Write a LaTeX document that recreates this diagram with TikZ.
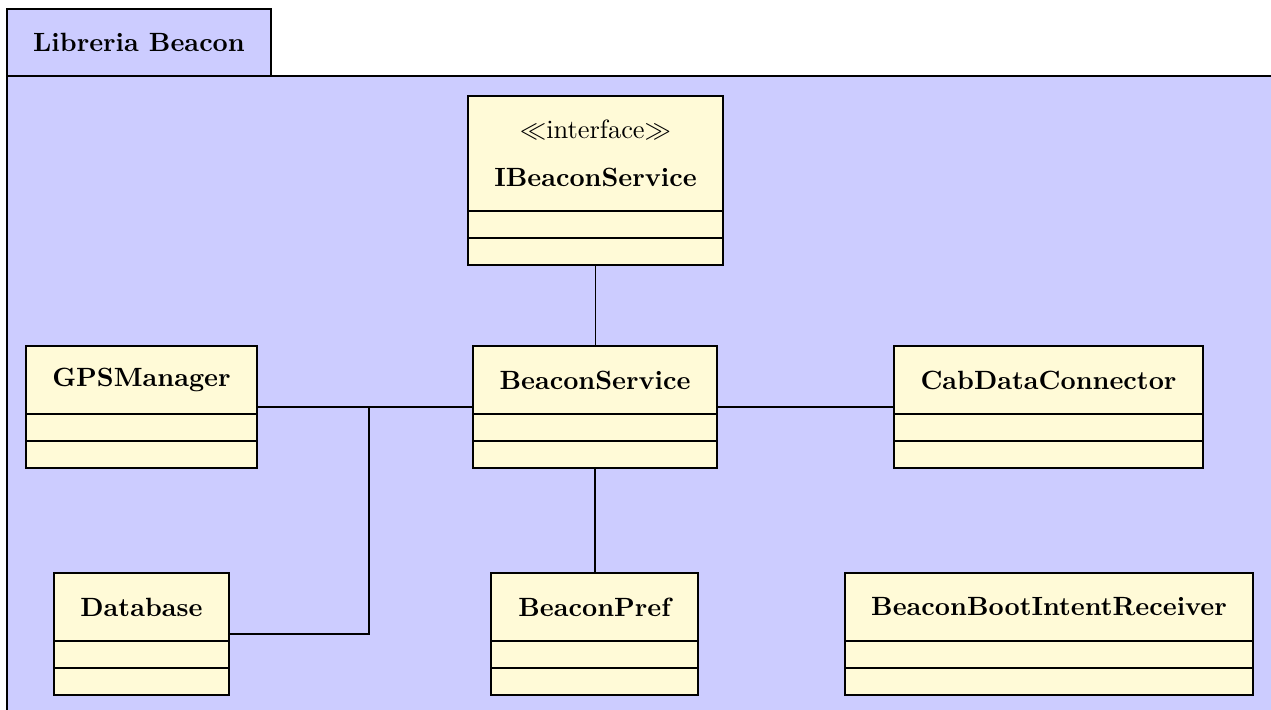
\documentclass[tikz,border=0pt]{standalone}
\usetikzlibrary{fit,calc}

\definecolor{pkgfill}{RGB}{204,204,255}
\definecolor{classfill}{RGB}{255,250,215}

\tikzset{
  pkg/.style={draw=black, fill=pkgfill, line width=0.45pt},
  classbox/.style={draw=black, fill=classfill, line width=0.45pt, inner sep=0pt},
  divider/.style={draw=black, line width=0.45pt},
  classname/.style={font=\bfseries, inner sep=0pt, align=center},
  assoc/.style={draw=black, line width=0.45pt}
}

% #1 node name, #2 left, #3 top, #4 right, #5 bottom, #6 header text
\newcommand{\umlclass}[6]{%
  \node[classbox, fit={(#2,#3) (#4,#5)}] (#1) {};
  \draw[divider] ({#2},{#5-54}) -- ({#4},{#5-54});
  \draw[divider] ({#2},{#5-27}) -- ({#4},{#5-27});
  \node[classname] (#1-name) at ({(#2+#4)/2},{(#3+#5-54)/2}) {#6};
}

\begin{document}
\begin{tikzpicture}[x=0.3788pt, y=-0.3788pt]
  \useasboundingbox (0,0) rectangle (1271,709);
  \clip (0,0) rectangle (1271,709);

  % package frame with its name tab
  \draw[pkg] (7,76) rectangle (1300,740);
  \draw[pkg] (7,9) rectangle (271,76);
  \node[classname] (pkgname) at (139,42) {Libreria Beacon};

  % classes
  \umlclass{ibs}{468}{96}{723}{265}{\mdseries$\ll$interface$\gg$\\[6pt]\textbf{IBeaconService}}
  \umlclass{gps}{26}{346}{257}{468}{GPSManager}
  \umlclass{bs}{473}{346}{717}{468}{BeaconService}
  \umlclass{cab}{894}{346}{1203}{468}{CabDataConnector}
  \umlclass{db}{54}{573}{229}{695}{Database}
  \umlclass{pref}{491}{573}{698}{695}{BeaconPref}
  \umlclass{boot}{845}{573}{1253}{695}{BeaconBootIntentReceiver}

  % associations
  \coordinate (join) at (369,407);
  \draw[assoc] (bs.north -| ibs.south) -- (ibs.south);
  \draw[assoc] (gps.east) -- (bs.west);
  \draw[assoc] (bs.east) -- (cab.west);
  \draw[assoc] (bs.south) -- (bs.south |- pref.north);
  \draw[assoc] (db.east) -| (join);
\end{tikzpicture}
\end{document}
